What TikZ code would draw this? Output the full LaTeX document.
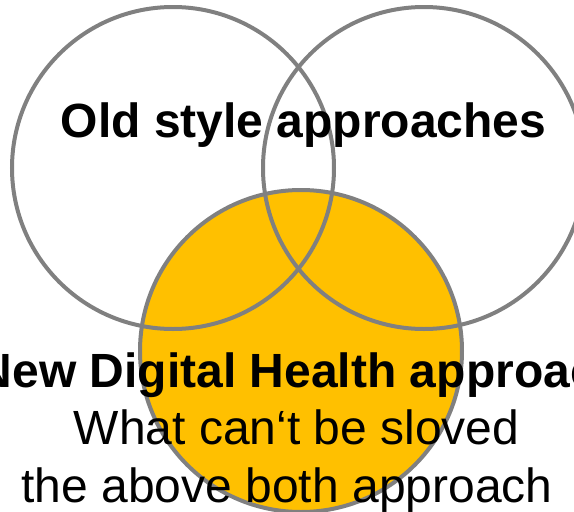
\documentclass[tikz,border=0pt]{standalone}
\usepackage{fontspec}
\setmainfont{Liberation Sans}
\usepackage{tikz}
\usetikzlibrary{positioning}
\definecolor{lcgold}{RGB}{255,192,0}
\definecolor{lcedge}{RGB}{128,128,128}

\begin{document}
\begin{tikzpicture}[%
    x=1pt, y=-1pt,              % pixel-like units, top-down
    on grid]                    % rings are placed centre to centre
% -------------------------------------------------
% Ring and text styles
\tikzset{
  ring/.style={draw=lcedge, line width=4pt, circle, minimum size=322pt, inner sep=0pt},
  gold/.style={ring, fill=lcgold},
  head/.style={anchor=base, inner sep=0pt, font={\fontsize{48}{57.6}\selectfont\bfseries}},
  body/.style={anchor=base, inner sep=0pt, font={\fontsize{48}{57.6}\selectfont}}
}
\useasboundingbox (0,0) rectangle (574,512);
% -------------------------------------------------
% The filled ring goes first, the two open rings on top of it
\node [gold] (cnew) at (301,351) {};
\node [ring] (cold) at (173,168) {};
\node [ring, right=251pt of cold] (cold2) {};

% -------------------------------------------------
% Labels
\node [head] (told) at (303.5,137) {Old style approaches};
\node [head] (tnew) at (302,387) {New Digital Health approach};
\node [body] (tq1) at (296.5,444) {What can‘t be sloved};
\node [body] (tq2) at (287,502) {the above both approach};
\end{tikzpicture}
\end{document}
